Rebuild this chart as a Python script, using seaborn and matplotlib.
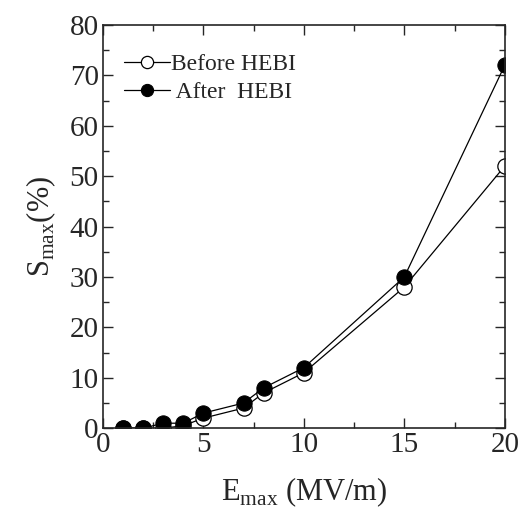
import pandas as pd
import seaborn as sns
import matplotlib.pyplot as plt
from matplotlib.ticker import MultipleLocator

# data
e_max = [1, 2, 3, 4, 5, 7, 8, 10, 15, 20]
s_before = [0, 0, 0, 0.5, 2, 4, 7, 11, 28, 52]
s_after = [0, 0, 1, 1, 3, 5, 8, 12, 30, 72]

sns.set_style("ticks")
plt.rcParams['font.family'] = ['Liberation Serif', 'DejaVu Serif']
plt.rcParams['mathtext.fontset'] = 'custom'
plt.rcParams['mathtext.rm'] = 'Liberation Serif'

fig = plt.figure(figsize=(5.22, 5.08), dpi=100)
ax = fig.add_axes([0.197, 0.157, 0.770, 0.794])

sns.lineplot(x=e_max, y=s_before, ax=ax, color='black', lw=0.9, marker='o',
             markersize=11, markerfacecolor='white', markeredgecolor='black',
             markeredgewidth=0.9, label='Before HEBI')
sns.lineplot(x=e_max, y=s_after, ax=ax, color='black', lw=0.9, marker='o',
             markersize=11, markerfacecolor='black', markeredgecolor='black',
             label=' After  HEBI')

ax.set_xlim(0, 20)
ax.set_ylim(0, 80)
ax.xaxis.set_major_locator(MultipleLocator(5))
ax.xaxis.set_minor_locator(MultipleLocator(2.5))
ax.yaxis.set_major_locator(MultipleLocator(10))
ax.yaxis.set_minor_locator(MultipleLocator(5))
ax.tick_params(which='both', direction='in', top=True, right=True, width=1)
ax.tick_params(which='major', length=7, labelsize=21, pad=3)
ax.tick_params(which='minor', length=4)
for s in ax.spines.values():
    s.set_linewidth(1.2)

ax.set_xlabel(r'E$_{\mathrm{max}}$ (MV/m)', fontsize=22, labelpad=12)
ax.set_ylabel(r'S$_{\mathrm{max}}$(%)', fontsize=22, labelpad=8)

ax.legend(loc='upper left', bbox_to_anchor=(0.052, 0.928), frameon=False,
          fontsize=17, handlelength=1.95, handletextpad=0.05, labelspacing=0.25,
          borderaxespad=0, borderpad=0, markerscale=0.8)

fig.savefig('out.png', dpi=100)
